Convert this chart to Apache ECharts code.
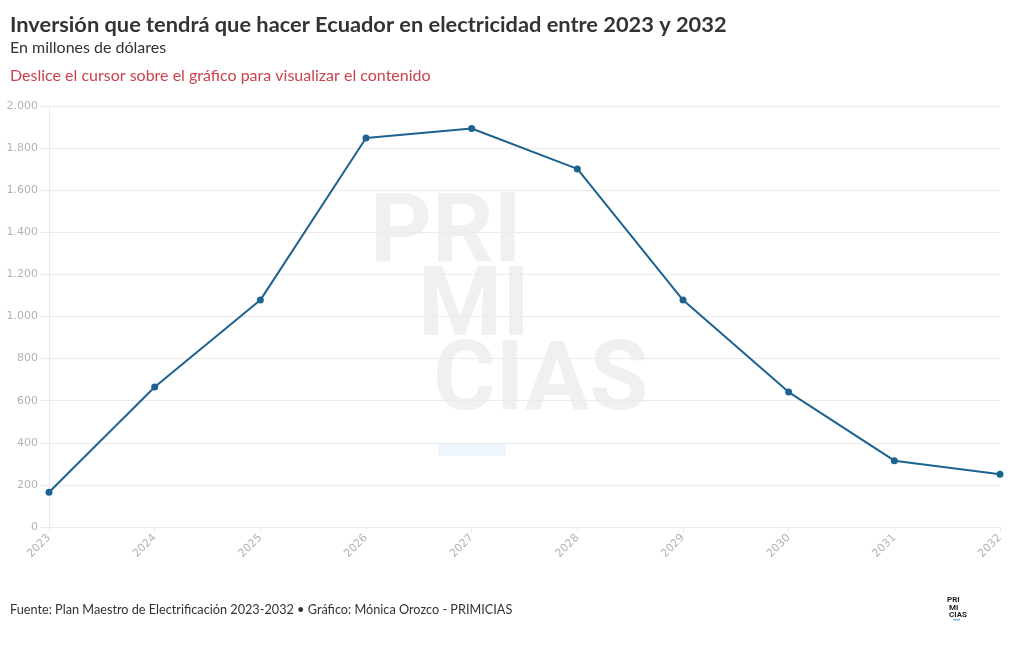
<!DOCTYPE html>
<html>
<head>
<meta charset="utf-8">
<script src="https://cdn.jsdelivr.net/npm/echarts@6/dist/echarts.min.js"></script>
<style>
html,body{margin:0;padding:0;background:#fff;}
#chart{width:1020px;height:650px;}
</style>
</head>
<body>
<div id="chart"></div>
<script>
const years = ['2023','2024','2025','2026','2027','2028','2029','2030','2031','2032'];
const inversion = [165, 665, 1078, 1848, 1893, 1701, 1078, 641, 315, 251];
const yTicks = {min: 0, max: 2000, interval: 200};

const chart = echarts.init(document.getElementById('chart'), null, {renderer: 'canvas'});
const FONT = 'Lato';
const fmt = v => v.toString().replace(/\B(?=(\d{3})+(?!\d))/g, '.');

chart.setOption({
  animation: false,
  backgroundColor: '#ffffff',
  title: [
    {text: 'Inversión que tendrá que hacer Ecuador en electricidad entre 2023 y 2032', left: 10, top: 14, padding: 0,
     textStyle: {fontFamily: FONT, fontWeight: 'bold', fontSize: 21.8, color: '#333333'}},
    {text: 'En millones de dólares', left: 10, top: 40, padding: 0,
     textStyle: {fontFamily: FONT, fontWeight: 'normal', fontSize: 16, color: '#333333'}},
    {text: 'Deslice el cursor sobre el gráfico para visualizar el contenido', left: 10, top: 68, padding: 0,
     textStyle: {fontFamily: FONT, fontWeight: 'normal', fontSize: 16, color: '#c9424c'}},
    {text: 'Fuente: Plan Maestro de Electrificación 2023-2032 • Gráfico: Mónica Orozco - PRIMICIAS', left: 10, top: 603, padding: 0,
     textStyle: {fontFamily: FONT, fontWeight: 'normal', fontSize: 12.7, color: '#333333'}}
  ],
  graphic: [
    {type: 'text', left: 370, top: 189, z: -1, silent: true,
     style: {text: 'PRI', font: 'bold 96px Roboto', fill: '#f0f0f0'}},
    {type: 'text', left: 418, top: 263, z: -1, silent: true,
     style: {text: 'MI', font: 'bold 96px Roboto', fill: '#f0f0f0'}},
    {type: 'text', left: 433, top: 337, z: -1, silent: true,
     style: {text: 'CIAS', font: 'bold 96px Roboto', fill: '#f0f0f0'}},
    {type: 'rect', z: -1, silent: true, shape: {x: 438, y: 443, width: 68, height: 13}, style: {fill: '#eef5fc'}},
    {type: 'text', left: 947, top: 596, silent: true,
     style: {text: 'PRI\n MI\n CIAS', font: 'bold 8px Roboto', lineHeight: 7.5, fill: '#222'}},
    {type: 'rect', silent: true, shape: {x: 953, y: 619, width: 7, height: 1.5}, style: {fill: '#7db9e8'}}
  ],
  grid: {left: 49, right: 20, top: 106, bottom: 123, containLabel: false},
  xAxis: {
    type: 'category', data: years, boundaryGap: false,
    axisLine: {show: true, lineStyle: {color: '#ebebeb'}},
    axisTick: {show: true, alignWithLabel: true, length: 5, lineStyle: {color: '#ebebeb'}},
    axisLabel: {rotate: 45, color: '#b3b3b3', fontFamily: 'DejaVu Sans', fontSize: 11, margin: 9},
    splitLine: {show: false}
  },
  yAxis: {
    type: 'value', min: yTicks.min, max: yTicks.max, interval: yTicks.interval,
    axisLine: {show: true, lineStyle: {color: '#ebebeb'}},
    axisTick: {show: true, length: 9, lineStyle: {color: '#ebebeb'}},
    axisLabel: {color: '#b3b3b3', fontFamily: 'DejaVu Sans', fontSize: 11, margin: 11, formatter: fmt},
    splitLine: {show: true, lineStyle: {color: '#ebebeb'}}
  },
  series: [{
    type: 'line', data: inversion, z: 3,
    symbol: 'circle', symbolSize: 7,
    lineStyle: {color: '#1d6290', width: 2},
    itemStyle: {color: '#1d6290'}
  }]
});
</script>
</body>
</html>
